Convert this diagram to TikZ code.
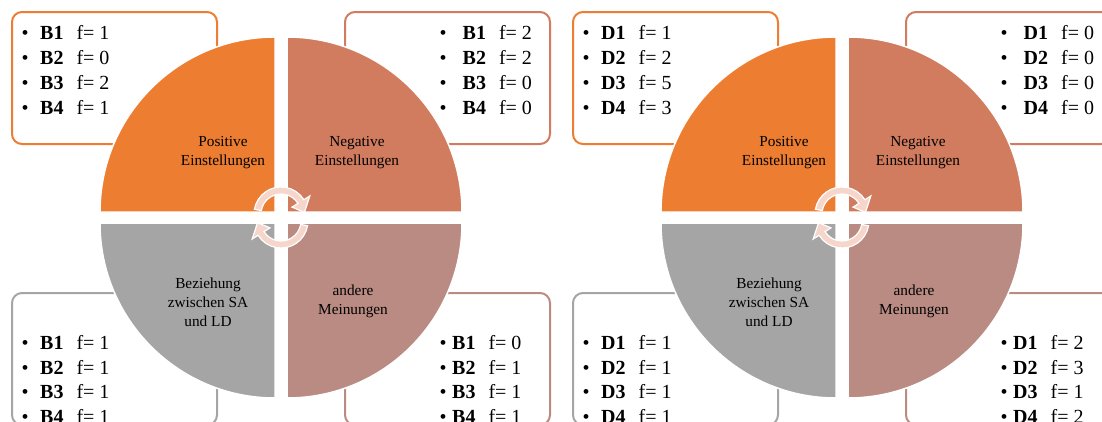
\documentclass[tikz,border=0pt]{standalone}
\usepackage{fontspec}
\setmainfont{Liberation Serif}
\usetikzlibrary{calc}
\definecolor{cOrange}{HTML}{ED7D31}
\definecolor{cNeg}{HTML}{D17B5F}
\definecolor{cGray}{HTML}{A5A5A5}
\definecolor{cOther}{HTML}{BA8B82}
\definecolor{cArrow}{HTML}{F6D5CB}
% #1 letter, #2 gap after bullet, #3-#6 values
\newcommand{\flist}[6]{\begin{tabular}[t]{@{}c@{\hspace{#2}}l@{\hspace{13pt}}l@{}}
\textbullet & \textbf{#11} & f= #3\\
\textbullet & \textbf{#12} & f= #4\\
\textbullet & \textbf{#13} & f= #5\\
\textbullet & \textbf{#14} & f= #6
\end{tabular}}
\newcommand{\twol}[1]{\begin{tabular}[t]{@{}c@{}}#1\end{tabular}}
\newcommand{\cyclediagram}{%
  % boxes
  \draw[box,draw=cOrange] (12,12) rectangle (217,144);
  \draw[box,draw=cNeg] (345,12) rectangle (550,144);
  \draw[box,draw=cGray] (12,293) rectangle (217,425);
  \draw[box,draw=cOther] (345,293) rectangle (550,425);
  % quadrants
  \filldraw[quad,fill=cOrange] (275,212) -- ++(-175,0) arc[start angle=180,end angle=270,radius=175] -- cycle;
  \filldraw[quad,fill=cNeg] (287,212) -- ++(0,-175) arc[start angle=270,end angle=360,radius=175] -- cycle;
  \filldraw[quad,fill=cGray] (275,223) -- ++(-175,0) arc[start angle=180,end angle=90,radius=175] -- cycle;
  \filldraw[quad,fill=cOther] (287,223) -- ++(175,0) arc[start angle=0,end angle=90,radius=175] -- cycle;
  % arrows
  \coordinate (c1) at (281,214);
  \coordinate (c2) at (281,221);
  \filldraw[arr] ($(c1)+(190:27)$) arc[start angle=190,end angle=328,radius=27]
     -- ($(c1)+(328:34)$) -- ($(c1)+(356:23.5)$) -- ($(c1)+(328:13)$) -- ($(c1)+(328:20)$)
     arc[start angle=328,end angle=190,radius=20] -- cycle;
  \filldraw[arr] ($(c2)+(10:27)$) arc[start angle=10,end angle=148,radius=27]
     -- ($(c2)+(148:34)$) -- ($(c2)+(176:23.5)$) -- ($(c2)+(148:13)$) -- ($(c2)+(148:20)$)
     arc[start angle=148,end angle=10,radius=20] -- cycle;
}
\begin{document}
\begin{tikzpicture}[x=1pt,y=-1pt,
  quad/.style={draw=white,line width=1.5pt},
  box/.style={rounded corners=10pt,line width=2pt,fill=white},
  lbl/.style={font=\fontsize{15.3}{19}\selectfont,inner sep=0pt,anchor=base},
  lst/.style={font=\fontsize{20}{25}\selectfont,inner sep=0pt,anchor=base west},
  lstb/.style={font=\fontsize{20}{24.5}\selectfont,inner sep=0pt,anchor=base west},
  arr/.style={fill=cArrow,draw=white,line width=1.2pt}]
\useasboundingbox (0,0) rectangle (1102,421);
\begin{scope}
  \cyclediagram
  \node[lbl] (lp) at (223,146) {\twol{Positive\\Einstellungen}};
  \node[lbl] (ln) at (357,146) {\twol{Negative\\Einstellungen}};
  \node[lbl] (lb) at (208,288) {\twol{Beziehung\\zwischen SA\\und LD}};
  \node[lbl] (la) at (353,295) {\twol{andere\\Meinungen}};
  \node[lst] (tl) at (21.5,39.5) {\flist{B}{11.5pt}{1}{0}{2}{1}};
  \node[lst] (tr) at (439.5,39.5) {\flist{B}{16pt}{2}{2}{0}{0}};
  \node[lstb] (bl) at (21.5,349.5) {\flist{B}{11.5pt}{1}{1}{1}{1}};
  \node[lstb] (br) at (439.5,349.5) {\flist{B}{5.5pt}{0}{1}{1}{1}};
\end{scope}
\begin{scope}[xshift=561pt]
  \cyclediagram
  \node[lbl] (lp2) at (223,146) {\twol{Positive\\Einstellungen}};
  \node[lbl] (ln2) at (357,146) {\twol{Negative\\Einstellungen}};
  \node[lbl] (lb2) at (208,288) {\twol{Beziehung\\zwischen SA\\und LD}};
  \node[lbl] (la2) at (353,295) {\twol{andere\\Meinungen}};
  \node[lst] (tl2) at (21.5,39.5) {\flist{D}{11.5pt}{1}{2}{5}{3}};
  \node[lst] (tr2) at (439.5,39.5) {\flist{D}{16pt}{0}{0}{0}{0}};
  \node[lstb] (bl2) at (21.5,349.5) {\flist{D}{11.5pt}{1}{1}{1}{1}};
  \node[lstb] (br2) at (439.5,349.5) {\flist{D}{5.5pt}{2}{3}{1}{2}};
\end{scope}
\end{tikzpicture}
\end{document}
